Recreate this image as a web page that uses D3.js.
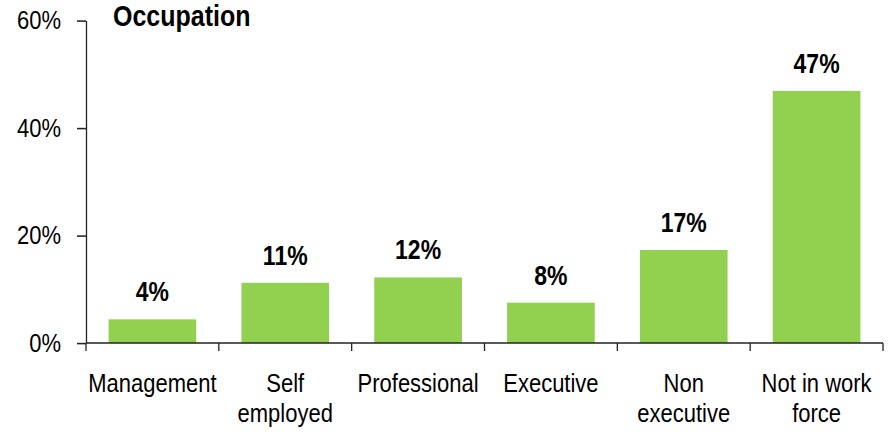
<!DOCTYPE html>
<meta charset="utf-8">
<style>
    body { margin: 0; background: #fff; }
    text { font-family: "Liberation Sans", Arial, sans-serif; fill: #000; }
</style>
<svg width="891" height="432"></svg>
<script src="https://cdn.jsdelivr.net/npm/d3@7"></script>
<script>
    // data
    var categories = ["Management", "Self employed", "Professional", "Executive", "Non executive", "Not in work force"];
    var categoryLines = [["Management"], ["Self", "employed"], ["Professional"], ["Executive"], ["Non", "executive"], ["Not in work", "force"]];
    var values = [4.4, 11.2, 12.2, 7.5, 17.3, 46.9];
    var valueLabels = ["4%", "11%", "12%", "8%", "17%", "47%"];
    var yTicks = [0, 20, 40, 60];

    // the original's text is tall and narrow, so the whole chart is drawn squeezed and stretched back vertically
    var sy = 1.18;
    var svg = d3.select("svg");
    var g = svg.append("g").attr("transform", "scale(1," + sy + ")");

    var x = d3.scaleBand()
            .domain(categories)
            .range([86, 883])
            .paddingInner(0.34)
            .paddingOuter(0.17);

    var y = d3.scaleLinear()
            .domain([0, 60])
            .range([343 / sy, 20.5 / sy]);

    // title
    g.append("text")
            .attr("x", 113)
            .attr("y", 26 / sy)
            .style("font-size", "25px")
            .style("font-weight", "bold")
            .text("Occupation");

    // bars
    g.append("g")
            .selectAll("rect")
            .data(values)
            .enter().append("rect")
            .attr("x", function (d, i) { return x(categories[i]); })
            .attr("width", x.bandwidth())
            .attr("y", function (d) { return y(d); })
            .attr("height", function (d) { return y(0) - y(d); })
            .attr("fill", "#92D050");

    // value labels
    g.append("g")
            .selectAll("text")
            .data(values)
            .enter().append("text")
            .attr("x", function (d, i) { return x(categories[i]) + x.bandwidth() / 2; })
            .attr("y", function (d) { return y(d) - 18 / sy; })
            .attr("text-anchor", "middle")
            .style("font-size", "23px")
            .style("font-weight", "bold")
            .text(function (d, i) { return valueLabels[i]; });

    // y axis
    var yAxis = g.append("g")
            .attr("transform", "translate(86,0)")
            .call(d3.axisLeft(y)
                    .tickValues(yTicks)
                    .tickSize(9)
                    .tickSizeOuter(0)
                    .tickPadding(16)
                    .tickFormat(function (d) { return d + "%"; }));
    yAxis.select(".domain").attr("stroke", "#222").attr("stroke-width", 1.3);
    yAxis.selectAll(".tick line").attr("stroke", "#222").attr("stroke-width", 1.3);
    yAxis.selectAll(".tick text")
            .style("font-size", "22px")
            .style("font-family", "'Liberation Sans', Arial, sans-serif")
            .attr("fill", "#000");

    // x axis: baseline and ticks at category boundaries
    var xAxis = g.append("g");
    xAxis.append("line")
            .attr("x1", 86).attr("x2", 883)
            .attr("y1", y(0)).attr("y2", y(0))
            .attr("stroke", "#222").attr("stroke-width", 1.3);

    var half = x.step() * x.paddingInner() / 2;
    var bounds = categories.map(function (c) { return x(c) - half; });
    bounds.push(x(categories[categories.length - 1]) + x.bandwidth() + half);
    xAxis.selectAll(".xtick")
            .data(bounds)
            .enter().append("line")
            .attr("class", "xtick")
            .attr("x1", function (d) { return d; })
            .attr("x2", function (d) { return d; })
            .attr("y1", y(0))
            .attr("y2", y(0) + 8 / sy)
            .attr("stroke", "#222").attr("stroke-width", 1.3);

    var catLabels = xAxis.selectAll(".cat")
            .data(categoryLines)
            .enter().append("text")
            .attr("class", "cat")
            .attr("text-anchor", "middle")
            .style("font-size", "22px");
    catLabels.each(function (lines, i) {
        var t = d3.select(this);
        lines.forEach(function (s, j) {
            t.append("tspan")
                    .attr("x", x(categories[i]) + x.bandwidth() / 2)
                    .attr("y", (392 + j * 30) / sy)
                    .text(s);
        });
    });
</script>
